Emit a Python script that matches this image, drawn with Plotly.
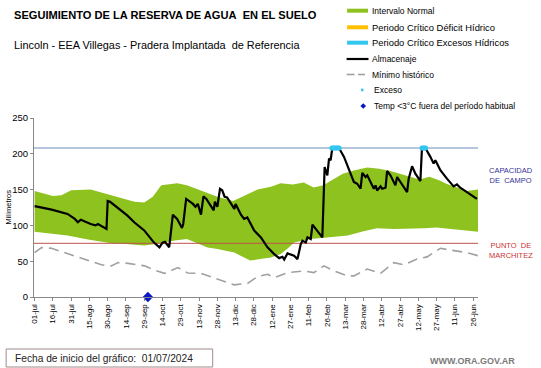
import plotly.graph_objects as go
import pandas as pd

START = "2024-07-01"
TICK_LABELS = ["01-jul", "16-jul", "31-jul", "15-ago", "30-ago", "14-sep", "29-sep",
               "14-oct", "29-oct", "13-nov", "28-nov", "13-dic", "28-dic", "12-ene",
               "27-ene", "11-feb", "26-feb", "13-mar", "28-mar", "12-abr", "27-abr",
               "12-may", "27-may", "11-jun", "26-jun"]
Y_TICKS = [0, 50, 100, 150, 200, 250]

CAPACIDAD_CAMPO = 208
PUNTO_MARCHITEZ = 75

# Normal interval (upper / lower), day offset from START
UPPER_DAYS = [0, 8, 15, 22, 30, 46, 58, 70, 82, 90, 97, 104, 117, 125, 133, 142, 150, 163,
              172, 183, 194, 202, 212, 221, 229, 237, 245, 253, 263, 273, 283, 292, 302,
              316, 324, 332, 338, 346, 355, 364]
UPPER_VALS = [148, 144, 141, 142, 149, 150, 144, 138, 133, 132, 140, 156, 159, 156, 151, 145,
              140, 134, 141, 150, 154, 159, 157, 160, 153, 156, 164, 172, 177, 181, 179, 176,
              171, 164, 168, 163, 158, 153, 148, 150]
LOWER_DAYS = [0, 14, 27, 45, 55, 63, 75, 90, 104, 115, 125, 135, 142, 150, 164, 172, 177,
              185, 194, 202, 208, 213, 226, 240, 257, 270, 281, 295, 308, 320, 330, 340,
              349, 364]
LOWER_VALS = [91, 88, 86, 80, 77, 75, 74, 72, 75, 79, 81, 74, 69, 67, 62, 55, 51, 53, 55,
              60, 68, 76, 81, 83, 86, 92, 96, 95, 95, 96, 97, 95, 93, 91]

# Almacenaje (soil water storage)
ALM_DAYS = [0, 14, 27, 33, 35.5, 38, 46, 50, 52, 57, 59, 60, 62, 76, 82, 90, 98, 102.5,
            105, 107, 110.5, 113.5, 117, 121, 122, 124.4, 130, 132, 134, 136.6, 138.6,
            141, 146, 147, 148, 150, 152.2, 154, 156, 158, 164, 165, 169.4, 172, 174.6,
            180.3, 185.8, 191.2, 196.7, 200.8, 203.5, 204.9, 207.6, 213, 215.8, 218.5,
            219.9, 222.6, 224, 226.7, 228.1, 232.1, 236.2, 238.1, 240.3, 241.7, 243,
            244.4, 249.9, 254, 258, 262.1, 264.9, 267.6, 269, 271.7, 273.1, 278.5, 279.9,
            281.2, 284, 285.3, 288.1, 289.4, 292.1, 296.2, 297.6, 300.3, 305.8, 307.1,
            309.9, 312.6, 316.7, 318, 320.8, 324.9, 327.6, 329, 333.1, 338.5, 344, 346.7,
            349.4, 354.9, 363.1]
ALM_VALS = [127, 122, 116, 109, 104.5, 108, 102, 100, 102, 97, 95, 134, 133, 114, 104, 93,
            76, 69.5, 76, 77, 69.5, 115, 109, 96.5, 102, 137, 130, 126, 130, 115, 140.5,
            137, 123, 121, 133, 126, 151, 149, 140, 139, 123, 130, 115, 109, 111,
            92.7, 83.3, 69.3, 59.9, 54.3, 56.2, 52.4, 60.9, 57.6, 52.9, 73.9,
            78.7, 76.3, 83.3, 81, 101.1, 92.7, 83.3, 181.6, 169.9, 193.3, 191,
            208, 208, 195.7, 179.3, 160.6, 158.2, 151.2, 173.2, 167.6, 170, 151.2, 155.9,
            148.8, 154.5, 151.2, 152.6, 176, 170, 155.9, 167.6, 160.6, 146.5, 165.3,
            182.6, 172.3, 162, 208, 208, 195.7, 186.3, 191, 177, 165.3, 154.5, 157.3,
            152.6, 146.5, 137.1]

# Minimo historico
MIN_DAYS = [0, 5.7, 13.9, 27.5, 41.2, 54.8, 63, 68.5, 76.7, 84.8, 90.3, 98.5, 106.7, 117.6,
            125.7, 136.6, 150.3, 163.9, 174.8, 183, 191.2, 196.7, 207.6, 221.2, 229.3, 237.5,
            245.7, 256.6, 262.1, 273.1, 284, 294.9, 303.1, 314, 322.2, 333.1, 341.3, 354.9,
            364.4]
MIN_VALS = [62, 69, 68, 60, 53, 45, 43.5, 48, 47, 44.5, 43.5, 37.5, 33, 41, 33.5, 33, 25,
            17, 19, 28.5, 31.8, 27, 34, 36.5, 34, 43.5, 36.5, 29.5, 29.5, 39, 33, 48, 45,
            53, 56, 68, 65.5, 62, 57.5]

# Exceso points and Temp < 3C point
EXC_DAYS = [244, 245, 246, 247, 248, 249, 250, 318, 319, 320, 321]
EXC_VALS = [208, 208, 208, 208, 208, 208, 208, 208, 208, 208, 208]
TEMP_DAYS = [93]
TEMP_VALS = [0]

base = pd.Timestamp(START)


def to_dates(days):
    return [base + pd.Timedelta(days=float(d)) for d in days]


TICK_DATES = [base + pd.Timedelta(days=15 * i) for i in range(len(TICK_LABELS))]
X_RANGE = [base - pd.Timedelta(hours=12), base + pd.Timedelta(days=364)]

GREEN = "#8dc21f"
FONT = "Liberation Sans"

fig = go.Figure()
fig.add_trace(go.Scatter(x=to_dates(LOWER_DAYS), y=LOWER_VALS, mode="lines",
                         line=dict(width=0, color=GREEN), hoverinfo="skip", showlegend=False))
fig.add_trace(go.Scatter(x=to_dates(UPPER_DAYS), y=UPPER_VALS, mode="lines", fill="tonexty",
                         fillcolor=GREEN, line=dict(width=0, color=GREEN),
                         name="Intervalo Normal", showlegend=False))
fig.add_trace(go.Scatter(x=X_RANGE, y=[PUNTO_MARCHITEZ] * 2, mode="lines",
                         line=dict(color="#c0504d", width=1), showlegend=False))
fig.add_trace(go.Scatter(x=X_RANGE, y=[CAPACIDAD_CAMPO] * 2, mode="lines",
                         line=dict(color="#9db4d2", width=1.6), showlegend=False))
fig.add_trace(go.Scatter(x=to_dates(MIN_DAYS), y=MIN_VALS, mode="lines",
                         line=dict(color="#a0a0a0", width=1.6, dash="10px,6px"),
                         name="Mínimo histórico", showlegend=False))
fig.add_trace(go.Scatter(x=to_dates(ALM_DAYS), y=ALM_VALS, mode="lines",
                         line=dict(color="black", width=2.2), name="Almacenaje",
                         showlegend=False))
fig.add_trace(go.Scatter(x=to_dates(EXC_DAYS), y=EXC_VALS, mode="markers",
                         marker=dict(color="#33c6ee", size=5), name="Exceso",
                         showlegend=False))
fig.add_trace(go.Scatter(x=to_dates(TEMP_DAYS), y=TEMP_VALS, mode="markers",
                         marker=dict(color="#0a14c8", size=8, symbol="diamond"),
                         cliponaxis=False, showlegend=False))

PL, PR, PT, PB = 32, 478, 118, 297


def px(x):
    return (x - PL) / (PR - PL)


def py(y):
    return (PB - y) / (PB - PT)


annotations = []
shapes = []


def text(x, y, s, size, color="black", xanchor="left", **kw):
    annotations.append(dict(x=px(x), y=py(y), xref="paper", yref="paper", text=s,
                            showarrow=False, xanchor=xanchor, yanchor="middle",
                            font=dict(family=FONT, size=size, color=color), **kw))


text(10, 15, "<b>SEGUIMIENTO DE LA RESERVA DE AGUA\u00a0 EN EL SUELO</b>", 11.1)
text(10, 45, "Lincoln - EEA Villegas - Pradera Implantada\u00a0 de Referencia", 10.9)

# custom legend
leg = [
    ("Intervalo Normal", 10.7, "bar", GREEN, 8.5),
    ("Periodo Crítico Déficit Hídrico", 27.3, "bar", "#ffc000", 9.4),
    ("Periodo Crítico Excesos Hídricos", 42.7, "bar", "#33c6ee", 9.4),
    ("Almacenaje", 59, "line", "black", 8.5),
    ("Mínimo histórico", 74.5, "dash", "#a0a0a0", 8.5),
    ("Exceso", 90, "dot", "#33c6ee", 8.5),
    ("Temp &lt;3°C fuera del período habitual", 106, "diamond", "#0a14c8", 8.5),
]
for label, yy, kind, col, fs in leg:
    tx = 369.5
    if kind == "bar":
        shapes.append(dict(type="line", xref="paper", yref="paper", x0=px(346.5), x1=px(367.5),
                           y0=py(yy), y1=py(yy), line=dict(color=col, width=4)))
    elif kind == "line":
        shapes.append(dict(type="line", xref="paper", yref="paper", x0=px(346), x1=px(368),
                           y0=py(yy), y1=py(yy), line=dict(color=col, width=2.2)))
    elif kind == "dash":
        for a, b in [(346, 354), (357.5, 364.5)]:
            shapes.append(dict(type="line", xref="paper", yref="paper", x0=px(a), x1=px(b),
                               y0=py(yy), y1=py(yy), line=dict(color=col, width=1.6)))
    elif kind == "dot":
        tx = 371.5
        shapes.append(dict(type="circle", xref="paper", yref="paper", x0=px(360.3), x1=px(363.1),
                           y0=py(yy + 1.4), y1=py(yy - 1.4), fillcolor=col, line=dict(width=0)))
    elif kind == "diamond":
        tx = 371.5
        cx, cy, r = 362.7, yy, 2.8
        path = "M {} {} L {} {} L {} {} L {} {} Z".format(
            px(cx), py(cy - r), px(cx + r), py(cy), px(cx), py(cy + r), px(cx - r), py(cy))
        shapes.append(dict(type="path", xref="paper", yref="paper", path=path, fillcolor=col,
                           line=dict(width=0)))
    text(tx, yy, label, fs)

# right-side labels
text(487, 175.5, "CAPACIDAD<br>DE\u00a0 CAMPO", 7.5, color="#333399")
text(487, 250.5, "PUNTO\u00a0 DE<br>MARCHITEZ", 7.5, color="#cc3333")

# y axis title
text(6, 207.5, "Milímetros", 7.5, xanchor="center", textangle=-90)

# bottom box
shapes.append(dict(type="rect", xref="paper", yref="paper", x0=px(4), x1=px(211.5),
                   y0=py(349), y1=py(367), line=dict(color="#a08a8a", width=1),
                   fillcolor="white"))
text(11, 358, "Fecha de inicio del gráfico:\u00a0 01/07/2024", 10.2, color="#222222")
text(517, 361, "<b>WWW.ORA.GOV.AR</b>", 9, color="#7a7a7a", xanchor="right")

fig.update_layout(
    width=541, height=368,
    margin=dict(l=PL, r=541 - PR, t=PT, b=368 - PB),
    paper_bgcolor="white", plot_bgcolor="white",
    font=dict(family=FONT, color="black"),
    showlegend=False,
    annotations=annotations, shapes=shapes,
    xaxis=dict(type="date", range=X_RANGE, tickvals=TICK_DATES, ticktext=TICK_LABELS,
               tickangle=-90, ticks="outside", ticklen=3, tickcolor="#888888",
               showline=True, linecolor="#888888", linewidth=1, showgrid=False,
               zeroline=False, tickfont=dict(size=8, family=FONT, color="black")),
    yaxis=dict(range=[0, 250], tickvals=Y_TICKS, ticks="outside", ticklen=3,
               tickcolor="#888888", showline=True, linecolor="#888888", linewidth=1,
               showgrid=False, zeroline=False,
               tickfont=dict(size=9.5, family=FONT, color="black")),
)

fig.write_html("out.html", config={"displayModeBar": False},
               post_script="document.body.style.margin='0px';document.body.style.overflow='hidden';")
